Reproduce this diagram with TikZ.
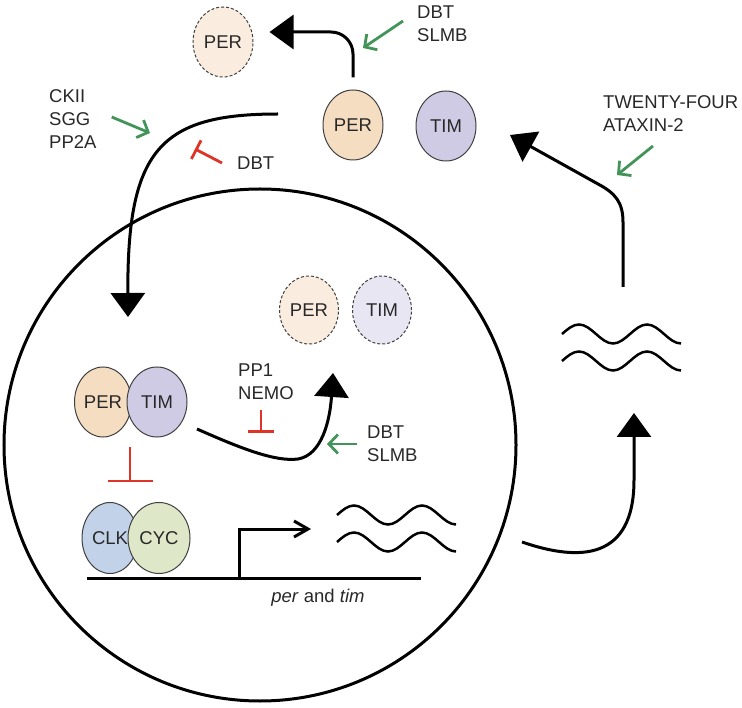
\documentclass[tikz,border=0pt]{standalone}
\usepackage{fontspec}
\setmainfont{Liberation Sans}
\usetikzlibrary{shapes.geometric,arrows.meta,calc}
\definecolor{perfill}{RGB}{245,221,193}
\definecolor{perpale}{RGB}{250,237,224}
\definecolor{timfill}{RGB}{208,203,229}
\definecolor{timpale}{RGB}{232,230,243}
\definecolor{clkfill}{RGB}{194,211,233}
\definecolor{cycfill}{RGB}{222,231,200}
\definecolor{actgreen}{RGB}{66,148,88}
\definecolor{inhred}{RGB}{222,52,40}
\definecolor{txt}{RGB}{40,40,40}
\tikzset{
  prot/.style={ellipse, draw=black!75, line width=1pt, minimum width=60pt, minimum height=70pt, inner sep=0pt, text=txt},
  gone/.style={prot, dash pattern=on 3pt off 2pt},
  conn/.style={draw, line width=3pt},
  bigarrow/.style={conn, -{Triangle[length=24pt,width=34pt]}},
  act/.style={draw=actgreen, line width=2.8pt, -{Straight Barb[length=9pt,width=19pt]}},
  inhib/.style={draw=inhred, line width=2.8pt, -{Bar[width=#1]}},
  inhib/.default=22pt,
  lab/.style={align=left, inner sep=0pt, text=txt},
  pics/transcripts/.style={code={
    \foreach \dy in {0,27}
      \draw[conn, line width=2.5pt] (0,\dy) sin ++(17,-9.5) cos ++(17,9.5) sin ++(17,9.5) cos ++(17,-9.5) sin ++(17,-9.5) cos ++(17,9.5) sin ++(17,9.5);
  }},
}
\begin{document}
\begin{tikzpicture}[x=1pt, y=-1pt, font=\fontsize{18.5}{23}\selectfont]
  \useasboundingbox (0,0) rectangle (742,708);
  % Nucleus
  \draw[line width=3pt] (260,445) circle [radius=256];
  % Proteins in the cytoplasm
  \node[gone, fill=perpale] (perdeg) at (223,42) {PER};
  \node[prot, fill=perfill] (perc) at (353,125) {PER};
  \node[prot, fill=timfill] (timc) at (446,126) {TIM};
  % Proteins in the nucleus
  \node[gone, fill=perpale, minimum width=59pt, minimum height=68pt] (pern) at (309,310) {PER};
  \node[gone, fill=timpale, minimum width=59pt, minimum height=68pt] (timn) at (382,310) {TIM};
  \node[prot, fill=perfill, minimum width=57pt] (perx) at (103,402) {PER};
  \node[prot, fill=timfill] (timx) at (157,402) {TIM};
  \node[prot, fill=clkfill, minimum width=56pt, minimum height=71pt] (clk) at (110,538) {CLK};
  \node[prot, fill=cycfill, minimum width=62pt, minimum height=71pt] (cyc) at (159,538) {CYC};
  % Labels
  \node[lab, anchor=west] (dbtA) at (417,24) {DBT\\SLMB};
  \node[lab, anchor=west] (kin) at (49,119) {CKII\\SGG\\PP2A};
  \node[lab, anchor=west] (dbtB) at (237,163) {DBT};
  \node[lab, anchor=west] (tf) at (603,114) {TWENTY-FOUR\\ATAXIN-2};
  \node[lab, anchor=west] (pp) at (238,382) {PP1\\NEMO};
  \node[lab, anchor=west] (dbtC) at (367,444) {DBT\\SLMB};
  \node[lab] (gene) at (318,598) {\textit{per} and \textit{tim}};
  % Gene and transcripts
  \coordinate (dnaL) at (87,578);
  \coordinate (dnaR) at (421,578);
  \coordinate (tss) at (239,578);
  \coordinate (tssEnd) at (311,529);
  \draw[conn] (dnaL) -- (dnaR);
  \draw[conn, -{Straight Barb[length=14pt,width=16pt]}] (tss) |- (tssEnd);
  \pic at (337,515) {transcripts};
  \pic at (562,334) {transcripts};
  % Main cycle
  \coordinate (mrnaOut) at (522,542);
  \coordinate (mrnaUp) at (634,413);
  \draw[bigarrow] (mrnaOut) .. controls (580,562) and (634,560) .. (634,480) -- (mrnaUp);
  \coordinate (mrnaTop) at (623,287);
  \coordinate (cytoTip) at (510,135);
  \draw[bigarrow] (mrnaTop) -- (623,222) .. controls (623,202) and (615,193) .. (598,184) -- (cytoTip);
  \draw[bigarrow, rounded corners=22pt, shorten <=12pt, shorten >=16pt] (perc.north) |- ([yshift=10pt]perdeg.east);
  \coordinate (cytoStart) at (278,114);
  \coordinate (nucEntry) at (128,317);
  \draw[bigarrow] (cytoStart) .. controls (160,114) and (127,150) .. (nucEntry);
  \coordinate (cplxOut) at (197,429);
  \coordinate (degTip) at (333,373);
  \draw[bigarrow] (cplxOut) .. controls (240,448) and (275,462) .. (298,459) .. controls (322,455) and (330,420) .. (degTip);
  % Regulators
  \coordinate (dbtAtgt) at (363,48);
  \coordinate (kinTgt) at (150,133);
  \coordinate (tfTgt) at (617,175);
  \coordinate (dbtCtgt) at (327,444);
  \coordinate (dbtBtgt) at (195,149);
  \draw[act] ([shift={(-14,-3)}]dbtA.west) -- (dbtAtgt);
  \draw[act] ([shift={(15,-2)}]kin.east) -- (kinTgt);
  \draw[act] ([shift={(50,32)}]tf.west) -- (tfTgt);
  \draw[act] ([xshift=-10pt]dbtC.west) -- (dbtCtgt);
  \draw[inhib=21pt] ([xshift=-15pt]dbtB.west) -- (dbtBtgt);
  \draw[inhib=26pt] ([shift={(-5,10)}]pp.south) -- ++(0,23);
  \draw[inhib=45pt] ($(perx.south)!.5!(timx.south)$) ++(0,10) -- ++(0,35);
\end{tikzpicture}
\end{document}
